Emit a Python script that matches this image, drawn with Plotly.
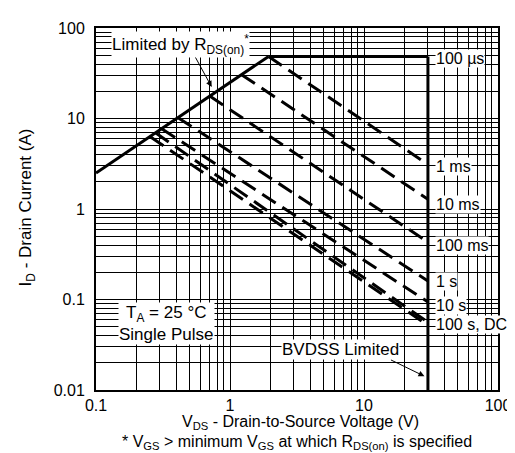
import plotly.graph_objects as go

# ---- data ----
rds_v = [0.1, 1.94]
rds_i = [2.5, 48.5]
us100_v = [1.94, 30]
us100_i = [48.5, 48.5]
bvdss_v = [30, 30]
bvdss_i = [48.5, 0.01]

ms1_v = [1.94, 30];   ms1_i = [48.5, 3.1]
ms10_v = [1.22, 30];  ms10_i = [30.5, 1.28]
ms100_v = [0.706, 30]; ms100_i = [17.7, 0.43]
s1_v = [0.41, 30];    s1_i = [10.2, 0.16]
s10_v = [0.309, 30];  s10_i = [7.7, 0.094]
s100_v = [0.278, 30]; s100_i = [6.95, 0.056]
dc_v = [0.254, 30];   dc_i = [6.3, 0.052]

x_ticks = [0.1, 1, 10, 100]
x_ticktext = ["0.1", "1", "10", "100"]
y_ticks = [0.01, 0.1, 1, 10, 100]
y_ticktext = ["0.01", "0.1", "1", "10", "100"]

W, H = 515, 453
L, R, T, B = 88, 17, 14, 71
FONT = "Liberation Sans, Arial, Helvetica, sans-serif"
LAB_SIZE = 17
RLAB_SIZE = 16
TICK_SIZE = 16
TITLE_SIZE = 16
YTITLE_SIZE = 17

fig = go.Figure()
solid = dict(color="black", width=3)
dashed = dict(color="black", width=3, dash="16px,8px")

for v, i in [(rds_v, rds_i), (us100_v, us100_i), (bvdss_v, bvdss_i)]:
    fig.add_trace(go.Scatter(x=v, y=i, mode="lines", line=solid, showlegend=False, hoverinfo="skip"))
for v, i in [(ms1_v, ms1_i), (ms10_v, ms10_i), (ms100_v, ms100_i), (s1_v, s1_i),
             (s10_v, s10_i), (s100_v, s100_i), (dc_v, dc_i)]:
    fig.add_trace(go.Scatter(x=v, y=i, mode="lines", line=dashed, showlegend=False, hoverinfo="skip"))

PW = W - L - R
PH = H - T - B

def lx(px):
    return -1 + (px - L) / PW * 3

def ly(py):
    return 2 - (py - T) / PH * 4

def paper_y(py):
    return (H - B - py) / PH

def paper_x(px):
    return (px - L) / PW

ann = []
lab = dict(font=dict(family=FONT, size=LAB_SIZE, color="black"), bgcolor="white", borderpad=0,
           showarrow=False, xanchor="center", yanchor="middle")

ann.append(dict(x=lx(174), y=ly(31), xref="x", yref="y",
                text="Limited by R<sub>DS(on)</sub><sup>*</sup>", **lab))
ann.append(dict(x=lx(206), y=ly(74), xref="x", yref="y", text="", showarrow=True,
                ax=-17, ay=-31, arrowhead=2, arrowsize=1.2, arrowwidth=1, arrowcolor="black"))

right_labels = [("100 µs", 45), ("1 ms", 155), ("10 ms", 193), ("100 ms", 235),
                ("1 s", 272), ("10 s", 296), ("100 s, DC", 315)]
for t, py in right_labels:
    ann.append(dict(x=lx(434), y=ly(py), xref="x", yref="y", xanchor="left", yanchor="middle", text=t,
                    font=dict(family=FONT, size=RLAB_SIZE, color="black"), bgcolor="white",
                    borderpad=0, showarrow=False))

ann.append(dict(x=lx(337), y=ly(341), xref="x", yref="y", text="BVDSS Limited", **lab))
ann.append(dict(x=lx(423), y=ly(368), xref="x", yref="y", text="", showarrow=True,
                ax=-35, ay=-17, arrowhead=2, arrowsize=1.2, arrowwidth=1, arrowcolor="black"))

ann.append(dict(x=lx(160), y=ly(314), xref="x", yref="y",
                text="T<sub>A</sub> = 25 °C<br>Single Pulse", **lab))

txt = dict(font=dict(family=FONT, size=TITLE_SIZE, color="black"), showarrow=False,
           xanchor="center", yanchor="middle")
ann.append(dict(x=paper_x(297), y=paper_y(415), xref="paper", yref="paper",
                text="V<sub>DS</sub> - Drain-to-Source Voltage (V)", **txt))
ann.append(dict(x=paper_x(293), y=paper_y(435), xref="paper", yref="paper",
                text="* V<sub>GS</sub> > minimum V<sub>GS</sub> at which R<sub>DS(on)</sub> is specified", **txt))
ann.append(dict(x=paper_x(18), y=paper_y(196), xref="paper", yref="paper", textangle=-90,
                text="I<sub>D</sub> - Drain Current (A)", showarrow=False, xanchor="center", yanchor="middle",
                font=dict(family=FONT, size=YTITLE_SIZE, color="black")))

axis_common = dict(type="log", showline=True, linecolor="black", linewidth=2, mirror=True,
                   showgrid=True, gridcolor="black", gridwidth=1, ticks="",
                   tickfont=dict(family=FONT, size=TICK_SIZE, color="black"), zeroline=False,
                   tickmode="array",
                   minor=dict(showgrid=True, gridcolor="black", gridwidth=1, dtick="D1", ticks=""))

fig.update_layout(
    width=W, height=H, margin=dict(l=L, r=R, t=T, b=B, pad=0),
    paper_bgcolor="white", plot_bgcolor="white",
    xaxis=dict(range=[-1, 2], tickvals=x_ticks, ticktext=x_ticktext, ticklabelstandoff=0, **axis_common),
    yaxis=dict(range=[-2, 2], tickvals=y_ticks, ticktext=y_ticktext, ticklabelstandoff=6, **axis_common),
    annotations=ann,
    font=dict(family=FONT, size=14, color="black"),
)

fig.write_html("out.html")
